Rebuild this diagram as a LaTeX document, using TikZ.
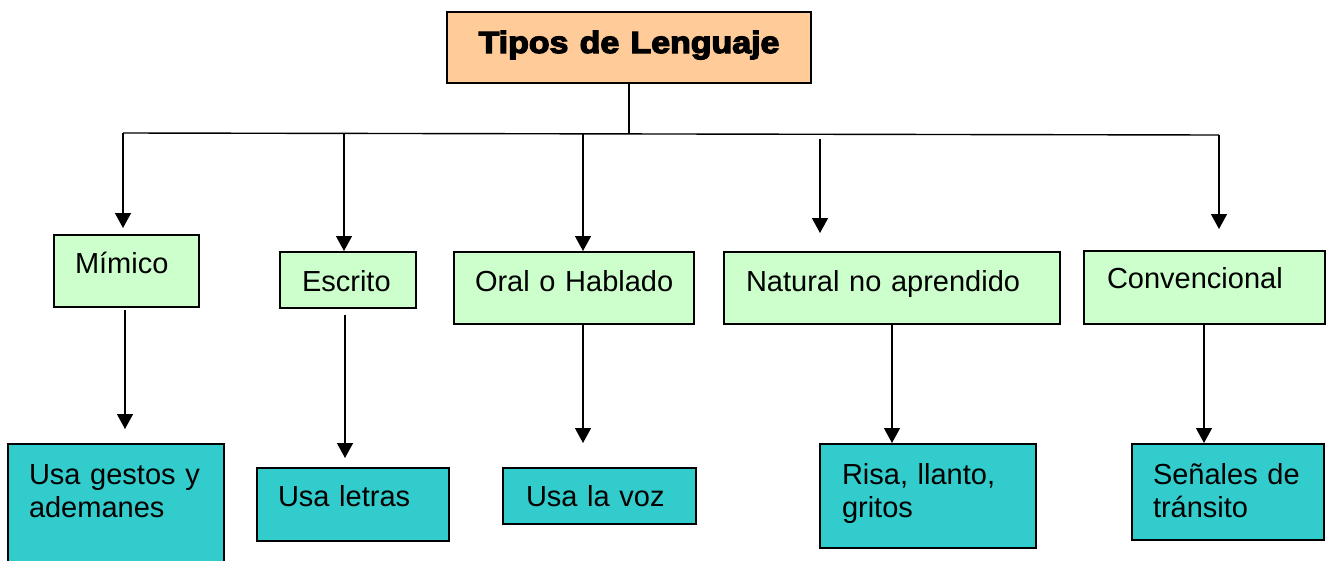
\documentclass[tikz,border=0pt]{standalone}
\usepackage{graphicx}
\usepackage{fontspec}
\setmainfont{Liberation Sans}
\newfontfamily\tipofont{Liberation Sans}[BoldFeatures={FakeBold=4}]
\usetikzlibrary{arrows.meta}
\definecolor{naranja}{HTML}{FFCC99}
\definecolor{verde}{HTML}{CCFFCC}
\definecolor{turquesa}{HTML}{33CCCC}

\begin{document}
\begin{tikzpicture}
  [x=1pt,y=-1pt,line width=1.4pt,
   every node/.style={outer sep=0pt,inner ysep=0pt,anchor=north west,align=left,
     font=\fontsize{29}{33}\selectfont},
   tipo/.style={draw,fill=verde},
   ejemplo/.style={draw,fill=turquesa},
   arr/.style={-{Triangle[width=16pt,length=15pt]}}]
\useasboundingbox (0,0) rectangle (1326,560);

\node (titulo)[draw,fill=naranja,align=center,inner xsep=0pt,text width=364pt,
  text height=41pt,text depth=30pt,font=\fontsize{30}{34}\tipofont\bfseries]
  at (447,12) {\scalebox{1.13}[1.02]{Tipos de Lenguaje}};

% tipos
\node (mimico)[tipo,inner xsep=21pt,text width=103pt,text height=38pt,text depth=34pt]
  at (54,235) {Mímico};
\node (escrito)[tipo,inner xsep=22pt,text width=92pt,text height=39pt,text depth=17pt]
  at (280,252) {Escrito};
\node (oral)[tipo,inner xsep=21pt,text width=198pt,text height=39pt,text depth=33pt]
  at (454,252) {\mbox{Oral o Hablado}};
\node (natural)[tipo,inner xsep=22pt,text width=292pt,text height=39pt,text depth=33pt]
  at (724,252) {Natural no aprendido};
\node (conv)[tipo,inner xsep=23pt,text width=195pt,text height=37pt,text depth=36pt]
  at (1084,251) {Convencional};

% ejemplos
\node (gestos)[ejemplo,inner xsep=21pt,text width=174pt,text height=40pt,text depth=131pt]
  at (8,444) {Usa gestos y\\ademanes};
\node (letras)[ejemplo,inner xsep=21pt,text width=150pt,text height=38pt,text depth=35pt]
  at (257,468) {Usa letras};
\node (voz)[ejemplo,inner xsep=23pt,text width=147pt,text height=38pt,text depth=18pt]
  at (503,468) {Usa la voz};
\node (risa)[ejemplo,inner xsep=22pt,text width=172pt,text height=40pt,text depth=64pt]
  at (820,444) {Risa, llanto,\\gritos};
\node (senales)[ejemplo,inner xsep=21pt,text width=150pt,text height=40pt,text depth=56pt]
  at (1132,444) {Señales de\\tránsito};

\foreach \n/\x/\y in {t1/123/133,t2/344/133,t3/583/134,t4/820/139,t5/1219/135,
    b1/125/0,b2/345/0,b3/583/0,b4/892/0,b5/1204/0}
  \coordinate (\n) at (\x,\y);

\draw (t1) -- (t5);
\draw (titulo.south) -- (titulo.south |- t3);

\foreach \c/\to/\s in {t1/mimico/7,t2/escrito/1,t3/oral/1,t4/natural/19,t5/conv/22}
  \draw[arr,shorten >=\s pt] (\c) -- (\c |- \to.north);

\foreach \c/\from/\to/\s/\e in {b1/mimico/gestos/3/15,b2/escrito/letras/7/10,
    b3/oral/voz/0/25,b4/natural/risa/0/1,b5/conv/senales/0/1}
  \draw[arr,shorten <=\s pt,shorten >=\e pt] (\c |- \from.south) -- (\c |- \to.north);
\end{tikzpicture}
\end{document}
